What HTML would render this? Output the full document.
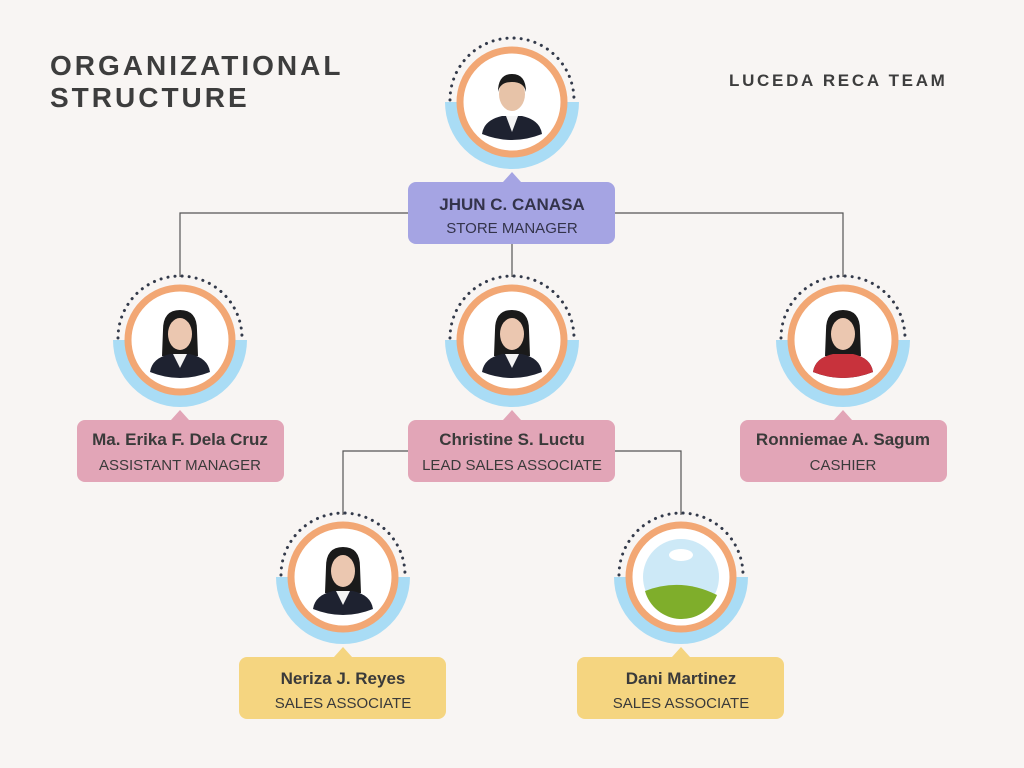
<!DOCTYPE html>
<html><head><meta charset="utf-8"><style>
body{margin:0;background:#f8f5f3;}
svg{display:block}
text{font-family:"Liberation Sans",sans-serif;}
</style></head><body>
<svg width="1024" height="768" viewBox="0 0 1024 768" xmlns="http://www.w3.org/2000/svg">
<defs>
<g id="ring">
  <path d="M -67 0 A 67 67 0 0 0 67 0 Z" fill="#a9dcf5"/>
  <path d="M -62 -2 A 62 62 0 0 1 62 -2" fill="none" stroke="#333a4a" stroke-width="3" stroke-dasharray="0.1 7" stroke-linecap="round"/>
  <circle r="52" fill="#fff" stroke="#f2a774" stroke-width="7"/>
</g>
<g id="person">
  <circle r="44" fill="#fff"/>
  <path d="M -30 32 Q -28 18 -10 14 L 10 14 Q 28 18 30 32 Q 0 44 -30 32 Z" fill="#1e2230"/>
  <path d="M -6 14 L 0 30 L 6 14 Z" fill="#f4f4f4"/>
  <ellipse cx="0" cy="-8" rx="13" ry="17" fill="#e7c3a8"/>
  <path d="M -14 -10 Q -14 -28 0 -28 Q 14 -28 14 -10 Q 12 -20 0 -20 Q -12 -20 -14 -10 Z" fill="#1a1a1a"/>
</g>
<g id="fperson">
  <circle r="44" fill="#fff"/>
  <path d="M -17 -10 Q -17 -30 0 -30 Q 17 -30 17 -10 L 18 16 L -18 16 Z" fill="#1a1a1a"/>
  <path d="M -30 32 Q -28 18 -10 14 L 10 14 Q 28 18 30 32 Q 0 44 -30 32 Z" fill="#1e2230"/>
  <path d="M -7 14 L 0 28 L 7 14 Z" fill="#f4f4f4"/>
  <ellipse cx="0" cy="-6" rx="12" ry="16" fill="#ebc7b0"/>
</g>
</defs>

<text x="50" y="75" font-size="28" font-weight="bold" fill="#3d3d3d" letter-spacing="3">ORGANIZATIONAL</text>
<text x="50" y="107" font-size="28" font-weight="bold" fill="#3d3d3d" letter-spacing="3">STRUCTURE</text>
<text x="729" y="86" font-size="17" font-weight="bold" fill="#3d3d3d" letter-spacing="2.7">LUCEDA RECA TEAM</text>

<g stroke="#555" stroke-width="1.2" fill="none">
<path d="M180 277 V213 H843 V277"/>
<path d="M512 244 V277"/>
<path d="M343 515 V451 H681 V515"/>
</g>

<g transform="translate(512,102)"><use href="#ring"/><use href="#person"/></g>
<g transform="translate(180,340)"><use href="#ring"/><use href="#fperson"/></g>
<g transform="translate(512,340)"><use href="#ring"/><use href="#fperson"/></g>
<g transform="translate(843,340)"><use href="#ring"/><use href="#fperson"/><path d="M -30 32 Q -28 18 -10 14 L 10 14 Q 28 18 30 32 Q 0 44 -30 32 Z" fill="#c8323c"/></g>
<g transform="translate(343,577)"><use href="#ring"/><use href="#fperson"/></g>
<g transform="translate(681,577)"><use href="#ring"/>
  <circle r="38" fill="#cde9f7"/>
  <path d="M -36 14 Q 0 0 36 18 A 38 38 0 0 1 -36 14 Z" fill="#7fae2b"/>
  <ellipse cx="0" cy="-22" rx="12" ry="6" fill="#fff"/>
</g>

<g>
<path d="M503 182 L512 172 L521 182 Z" fill="#a5a4e3"/>
<rect x="408" y="182" width="207" height="62" rx="8" fill="#a5a4e3"/>
<text x="512" y="210" font-size="17" font-weight="bold" text-anchor="middle" fill="#33334a">JHUN C. CANASA</text>
<text x="512" y="233" font-size="15" text-anchor="middle" fill="#33334a">STORE MANAGER</text>
</g>
<g fill="#e2a5b7">
<path d="M171 420 L180 410 L189 420 Z"/><rect x="77" y="420" width="207" height="62" rx="8"/>
<path d="M503 420 L512 410 L521 420 Z"/><rect x="408" y="420" width="207" height="62" rx="8"/>
<path d="M834 420 L843 410 L852 420 Z"/><rect x="740" y="420" width="207" height="62" rx="8"/>
</g>
<g fill="#f5d580">
<path d="M334 657 L343 647 L352 657 Z"/><rect x="239" y="657" width="207" height="62" rx="8"/>
<path d="M672 657 L681 647 L690 657 Z"/><rect x="577" y="657" width="207" height="62" rx="8"/>
</g>
<g fill="#3a3a3a" text-anchor="middle">
<text x="180" y="445" font-size="17" font-weight="bold">Ma. Erika F. Dela Cruz</text>
<text x="180" y="470" font-size="15">ASSISTANT MANAGER</text>
<text x="512" y="445" font-size="17" font-weight="bold">Christine S. Luctu</text>
<text x="512" y="470" font-size="15">LEAD SALES ASSOCIATE</text>
<text x="843" y="445" font-size="17" font-weight="bold">Ronniemae A. Sagum</text>
<text x="843" y="470" font-size="15">CASHIER</text>
<text x="343" y="684" font-size="17" font-weight="bold">Neriza J. Reyes</text>
<text x="343" y="708" font-size="15">SALES ASSOCIATE</text>
<text x="681" y="684" font-size="17" font-weight="bold">Dani Martinez</text>
<text x="681" y="708" font-size="15">SALES ASSOCIATE</text>
</g>
</svg>
</body></html>
